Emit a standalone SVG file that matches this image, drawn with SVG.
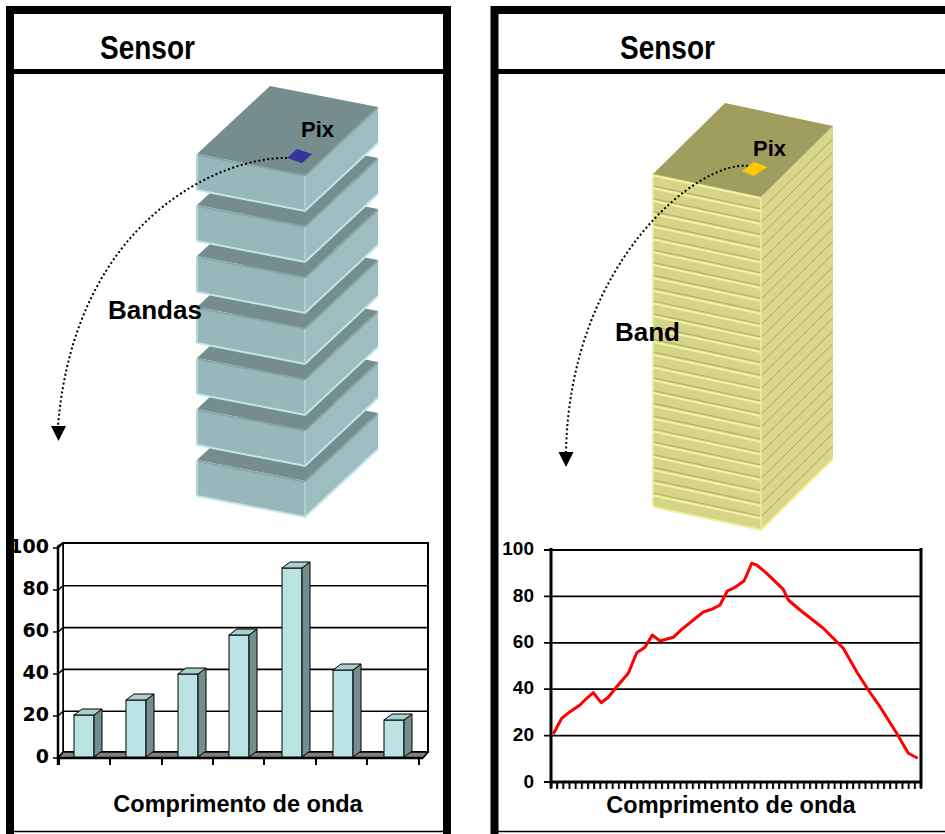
<svg xmlns="http://www.w3.org/2000/svg" width="945" height="834" viewBox="0 0 945 834">
<style>
.t{font-family:"Liberation Sans",Arial,sans-serif;font-weight:bold;fill:#000}
.ax{font-family:"DejaVu Sans","Liberation Sans",sans-serif;font-weight:bold;font-size:19px;fill:#000;text-anchor:end}
.ax2{font-family:"Liberation Sans",Arial,sans-serif;font-weight:bold;font-size:19px;fill:#000;text-anchor:end}
.frame{fill:none;stroke:#000;stroke-width:8}
.sep{stroke:#000;stroke-width:5}
.dot{fill:none;stroke:#000;stroke-width:2;stroke-dasharray:2 2.5}
.grid{stroke:#000;stroke-width:1.6}
.bf{fill:#bce3e3;stroke:#000;stroke-width:1}
.bs{fill:#748e8e;stroke:#000;stroke-width:1}
.bt{fill:#a9cfcf;stroke:#000;stroke-width:1}
</style>
<defs>
<g id="block">
<polygon points="197,154 305,175 378,107 270,86" fill="#758d8d"/>
<polygon points="197,154 305,175 305,211 197,190" fill="#98b7ba"/>
<polygon points="305,175 378,107 378,143 305,211" fill="#9dbdc0"/>
<polyline points="197,155 305,176 378,108" fill="none" stroke="#88a3a5" stroke-width="1.5"/>
<polyline points="197,190 305,211 378,143" fill="none" stroke="#c2e6ea" stroke-width="2"/>
<line x1="197" y1="154" x2="197" y2="190" stroke="#b2d6da" stroke-width="2"/>
<line x1="305" y1="176" x2="305" y2="211" stroke="#b2d6da" stroke-width="1.5"/>
</g>
<g id="stripe">
<line x1="653" y1="173" x2="761" y2="196" stroke="#b4b26b" stroke-width="1.2"/>
<line x1="653" y1="175.5" x2="761" y2="198.5" stroke="#f4f2a2" stroke-width="2"/>
<line x1="761" y1="197" x2="833" y2="126" stroke="#a9a764" stroke-width="1"/>
</g>
<pattern id="ticks" x="550" y="782" width="6.1667" height="7" patternUnits="userSpaceOnUse">
<rect x="0" y="0" width="2" height="7" fill="#000"/>
</pattern>
</defs>

<g id="left-panel">
<path class="frame" d="M10,834 V10 H447 V834"/>
<line x1="10" y1="831.5" x2="447" y2="831.5" stroke="#000" stroke-width="1.5"/>
<line class="sep" x1="10" y1="71.5" x2="447" y2="71.5"/>
<text class="t" transform="translate(100,59) scale(1,1.2)" font-size="28">Sensor</text>
</g>

<g id="right-panel">
<path class="frame" d="M494.5,834 V10 H945"/>
<line x1="494" y1="831.5" x2="945" y2="831.5" stroke="#000" stroke-width="1.5"/>
<line class="sep" x1="494" y1="71.5" x2="945" y2="71.5"/>
<text class="t" transform="translate(620,59) scale(1,1.2)" font-size="28">Sensor</text>
</g>

<g id="band-stack">
<use href="#block" y="306"/>
<use href="#block" y="255"/>
<use href="#block" y="204"/>
<use href="#block" y="153"/>
<use href="#block" y="102"/>
<use href="#block" y="51"/>
<use href="#block" y="0"/>
<polygon id="pixel-left" points="287,158 297,149 312,154 302,163" fill="#35349e"/>
<text class="t" x="301" y="137" font-size="22">Pix</text>
</g>

<g id="hyper-stack">
<polygon points="653,174 761,197 761,530 653,507" fill="#d6d487"/>
<polygon points="761,197 833,126 833,459 761,530" fill="#d9d78b"/>
<use href="#stripe" y="12.8"/><use href="#stripe" y="25.6"/><use href="#stripe" y="38.4"/><use href="#stripe" y="51.2"/>
<use href="#stripe" y="64"/><use href="#stripe" y="76.8"/><use href="#stripe" y="89.6"/><use href="#stripe" y="102.4"/>
<use href="#stripe" y="115.2"/><use href="#stripe" y="128"/><use href="#stripe" y="140.8"/><use href="#stripe" y="153.6"/>
<use href="#stripe" y="166.4"/><use href="#stripe" y="179.2"/><use href="#stripe" y="192"/><use href="#stripe" y="204.8"/>
<use href="#stripe" y="217.6"/><use href="#stripe" y="230.4"/><use href="#stripe" y="243.2"/><use href="#stripe" y="256"/>
<use href="#stripe" y="268.8"/><use href="#stripe" y="281.6"/><use href="#stripe" y="294.4"/><use href="#stripe" y="307.2"/>
<use href="#stripe" y="320"/>
<polygon points="653,174 761,197 833,126 725,103" fill="#a09e5f"/>
<line x1="653" y1="175.5" x2="761" y2="198.5" stroke="#f4f2a2" stroke-width="2"/>
<polyline points="653,507 761,530 833,459" fill="none" stroke="#f2f09c" stroke-width="2"/>
<line x1="761" y1="198" x2="761" y2="530" stroke="#eeec98" stroke-width="1.5"/>
<line x1="653" y1="174" x2="653" y2="507" stroke="#eeec98" stroke-width="1.5"/>
<polygon id="pixel-right" points="742,171 754,162 767,167 754,176" fill="#ffc800"/>
<text class="t" x="753" y="156" font-size="22">Pix</text>
</g>

<g id="connectors">
<path class="dot" d="M287,158 C220,157 75,220 58,426"/>
<polygon points="51,426 66,426 58.5,441" fill="#000"/>
<path class="dot" d="M748,166 C700,160 570,260 566,452"/>
<polygon points="558.5,452 573.5,452 566,467" fill="#000"/>
</g>
<text class="t" x="108" y="319" font-size="26">Bandas</text>
<text class="t" x="615" y="341" font-size="26">Band</text>

<g id="bar-chart">
<rect x="63" y="543" width="365" height="209" fill="#fff" stroke="#000" stroke-width="2"/>
<line class="grid" x1="63" y1="585.8" x2="428" y2="585.8"/>
<line class="grid" x1="63" y1="627.6" x2="428" y2="627.6"/>
<line class="grid" x1="63" y1="669.4" x2="428" y2="669.4"/>
<line class="grid" x1="63" y1="711.2" x2="428" y2="711.2"/>
<polygon points="58,546 63,543 63,752 58,758" fill="#fff" stroke="#000" stroke-width="1.5"/>
<polygon points="58,758 63,752 428,752 423,758" fill="#7f7f7f" stroke="#000" stroke-width="1.5"/>
<path d="M53,548 H58 L63,543 M53,590 H58 L63,585.8 M53,632 H58 L63,627.6 M53,674 H58 L63,669.4 M53,716 H58 L63,711.2 M53,758 H58" stroke="#000" stroke-width="1.5" fill="none"/>
<line x1="58" y1="546" x2="58" y2="765" stroke="#000" stroke-width="2.5"/>
<line x1="58" y1="758" x2="423" y2="758" stroke="#000" stroke-width="2.5"/>
<path d="M59,758 V765 M110,758 V765 M162,758 V765 M213,758 V765 M264,758 V765 M316,758 V765 M367,758 V765 M419,758 V765" stroke="#000" stroke-width="2"/>
<g id="bar1"><rect class="bf" x="74" y="715" width="20" height="42"/><polygon class="bs" points="94,715 102,709 102,751 94,757"/><polygon class="bt" points="74,715 82,709 102,709 94,715"/></g>
<g id="bar2"><rect class="bf" x="126" y="700" width="20" height="57"/><polygon class="bs" points="146,700 154,694 154,751 146,757"/><polygon class="bt" points="126,700 134,694 154,694 146,700"/></g>
<g id="bar3"><rect class="bf" x="178" y="674" width="20" height="83"/><polygon class="bs" points="198,674 206,668 206,751 198,757"/><polygon class="bt" points="178,674 186,668 206,668 198,674"/></g>
<g id="bar4"><rect class="bf" x="229" y="635" width="20" height="122"/><polygon class="bs" points="249,635 257,629 257,751 249,757"/><polygon class="bt" points="229,635 237,629 257,629 249,635"/></g>
<g id="bar5"><rect class="bf" x="282" y="568" width="20" height="189"/><polygon class="bs" points="302,568 310,562 310,751 302,757"/><polygon class="bt" points="282,568 290,562 310,562 302,568"/></g>
<g id="bar6"><rect class="bf" x="333" y="670" width="20" height="87"/><polygon class="bs" points="353,670 361,664 361,751 353,757"/><polygon class="bt" points="333,670 341,664 361,664 353,670"/></g>
<g id="bar7"><rect class="bf" x="384" y="720" width="20" height="37"/><polygon class="bs" points="404,720 412,714 412,751 404,757"/><polygon class="bt" points="384,720 392,714 412,714 404,720"/></g>
<text class="ax" x="49" y="553">100</text>
<text class="ax" x="49" y="595">80</text>
<text class="ax" x="49" y="637">60</text>
<text class="ax" x="49" y="679">40</text>
<text class="ax" x="49" y="721">20</text>
<text class="ax" x="49" y="763">0</text>
<text class="t" x="238" y="812" font-size="23.5" text-anchor="middle">Comprimento de onda</text>
</g>
<rect x="6" y="540" width="8" height="20" fill="#000"/>

<g id="line-chart">
<path d="M544,550 H921 M544,596.4 H921 M544,642.8 H921 M544,689.2 H921 M544,735.6 H921 M544,782 H921" stroke="#000" stroke-width="1.8" fill="none"/>
<line x1="551" y1="548" x2="551" y2="788" stroke="#000" stroke-width="3"/>
<line x1="921" y1="548" x2="921" y2="788" stroke="#000" stroke-width="3"/>
<line x1="550" y1="782" x2="922" y2="782" stroke="#000" stroke-width="3"/>
<rect x="550" y="782" width="372" height="7" fill="url(#ticks)"/>
<polyline fill="none" stroke="#ff0000" stroke-width="3" stroke-linejoin="round" points="553.3,734 561.7,718.3 570,711.7 580,705 586.7,698.3 593.3,692.7 601,702.7 608.3,697.3 616.7,686.7 628.3,673.3 636.7,652.7 645,647.3 652.3,635 660,641 673.3,637.3 681.7,629.3 693.3,620 703.3,612 711.7,609.3 720,605 727.3,591 735,587.3 744,581 751.7,563.3 756.7,565 766.7,573.3 783.3,589.3 788.3,600 800,610 823.3,628.3 833.3,638.3 843.3,648.3 856.7,671.7 868.3,690 880,706.7 896.7,733.3 908.3,753.3 917.7,758.3"/>
<text class="ax2" x="534" y="555">100</text>
<text class="ax2" x="534" y="602">80</text>
<text class="ax2" x="534" y="648">60</text>
<text class="ax2" x="534" y="694">40</text>
<text class="ax2" x="534" y="741">20</text>
<text class="ax2" x="534" y="788">0</text>
<text class="t" x="731" y="813" font-size="23.5" text-anchor="middle">Comprimento de onda</text>
</g>
</svg>
